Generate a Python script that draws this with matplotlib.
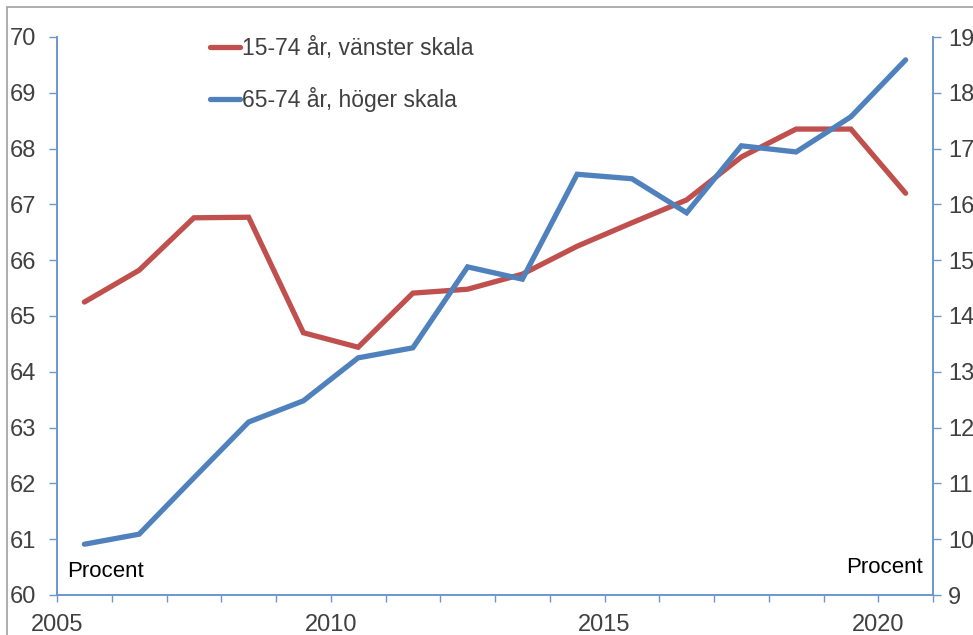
import matplotlib
matplotlib.use('Agg')
import matplotlib.pyplot as plt
from matplotlib.patches import Rectangle

plt.rcParams['font.family'] = ['Liberation Sans', 'DejaVu Sans']

years = list(range(2005, 2021))
# 15-74 år, vänster skala (procent)
emp_15_74 = [65.25, 65.82, 66.76, 66.77, 64.70, 64.44, 65.41, 65.48,
             65.75, 66.25, 66.67, 67.08, 67.85, 68.35, 68.35, 67.20]
# 65-74 år, höger skala (procent)
emp_65_74 = [9.91, 10.09, 11.10, 12.10, 12.48, 13.25, 13.43, 14.88,
             14.66, 16.54, 16.46, 15.85, 17.05, 16.94, 17.57, 18.59]
xlabels = [2005, 2010, 2015, 2020]

RED = '#C0504D'; BLUE = '#4F81BD'; AX = '#6A97CF'; TXT = '#404040'

fig = plt.figure(figsize=(9.73, 6.35), dpi=100)
# outer chart frame (only left/top visible in the crop)
fig.patches.append(Rectangle((7/973, -0.1), 1.2, 1.1 - 7/635, transform=fig.transFigure,
                             fc='none', ec='#A0A0A0', lw=1.2))

ax = fig.add_axes([57/973, 40/635, 876/973, 558/635])
ax2 = ax.twinx()
xs = [y + 0.5 for y in years]
l1, = ax.plot(xs, emp_15_74, color=RED, lw=3.8, solid_capstyle='round', solid_joinstyle='miter')
l2, = ax2.plot(xs, emp_65_74, color=BLUE, lw=3.8, solid_capstyle='round', solid_joinstyle='miter')

ax.set_xlim(2005, 2021)
ax.set_ylim(60, 70)
ax2.set_ylim(9, 19)
ax.set_yticks(range(60, 71))
ax2.set_yticks(range(9, 20))
ax.set_xticks(range(2005, 2022))
ax.set_xticklabels([str(t) if t in xlabels else '' for t in range(2005, 2022)])

for a in (ax, ax2):
    a.spines['top'].set_visible(False)
    for s in ('left', 'right', 'bottom'):
        a.spines[s].set_color(AX)
        a.spines[s].set_linewidth(1.2)
ax.tick_params(axis='y', direction='out', length=6, width=1, color=AX,
               labelsize=17, labelcolor=TXT, pad=9)
ax2.tick_params(axis='y', direction='out', length=6, width=1, color=AX,
                labelsize=17, labelcolor=TXT, pad=5)
ax.tick_params(axis='x', direction='out', length=5, width=1, color=AX,
               labelsize=17, labelcolor=TXT, pad=9)

ax.text(0.012, 0.042, 'Procent', transform=ax.transAxes, fontsize=16, color='black',
        ha='left', va='center')
ax.text(0.988, 0.05, 'Procent', transform=ax.transAxes, fontsize=16, color='black',
        ha='right', va='center')

leg = ax.legend([l1, l2], ['15-74 år, vänster skala', '65-74 år, höger skala'],
                loc='upper left', bbox_to_anchor=(0.151, 1.037), frameon=False,
                fontsize=16.5, handlelength=1.3, handletextpad=0.1, labelspacing=1.2)
for t in leg.get_texts():
    t.set_color(TXT)

fig.savefig('out.png', dpi=100, facecolor='white')
